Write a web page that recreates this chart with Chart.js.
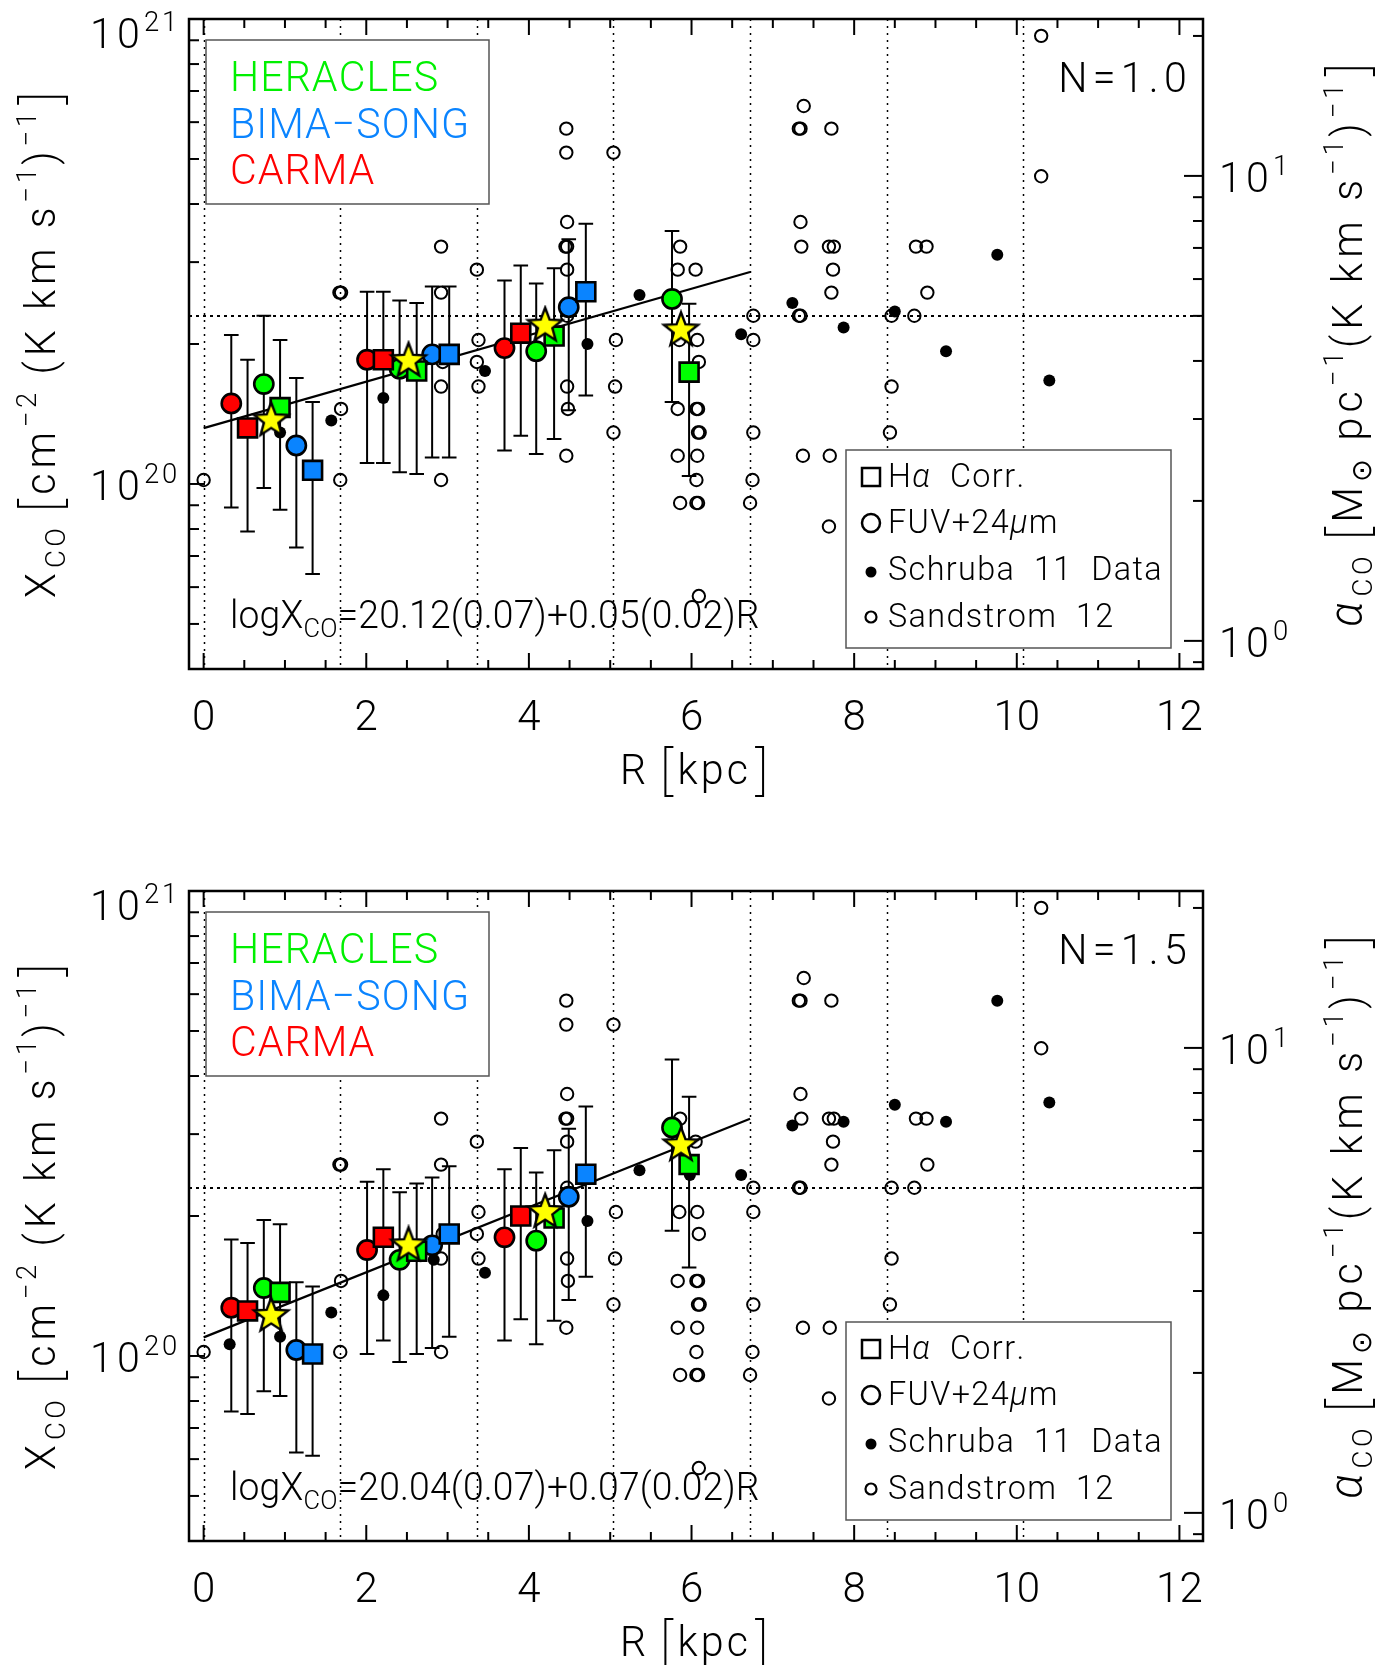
<!DOCTYPE html>
<html>
<head>
<meta charset="utf-8">
<script src="https://cdn.jsdelivr.net/npm/chart.js@4.4.1/dist/chart.umd.min.js"></script>
<style>
  html, body { margin: 0; padding: 0; background: #fff; }
  #wrap { position: relative; width: 1396px; height: 1665px; }
  canvas { position: absolute; left: 0; display: block; }
</style>
</head>
<body>
<div id="wrap">
  <canvas id="panelN10" width="1396" height="872" style="top:0"></canvas>
  <canvas id="panelN15" width="1396" height="793" style="top:872px"></canvas>
</div>
<script>
// ---------------- axes ----------------
// X_CO values are in units of 1e20 cm^-2 (K km s^-1)^-1
const rRange = [-0.18, 12.29];
const xcoRange = [0.4, 10];
const alphaPerXco = 2.175;            // alpha_CO [Msun pc^-2 (K km s^-1)^-1] per 1e20 of X_CO
const rTicks = [0, 2, 4, 6, 8, 10, 12];
const rMinorTicks = [0.5, 1, 1.5, 2.5, 3, 3.5, 4.5, 5, 5.5, 6.5, 7, 7.5, 8.5, 9, 9.5, 10.5, 11, 11.5];
const xcoTicks = [1, 10];
const xcoTickExp = ['20', '21'];
const xcoMinorTicks = [0.5, 0.6, 0.7, 0.8, 0.9, 2, 3, 4, 5, 6, 7, 8, 9];
const alphaTicks = [1, 10];
const alphaTickExp = ['0', '1'];
const alphaMinorTicks = [0.9, 2, 3, 4, 5, 6, 7, 8, 9, 20];
const ringRadii = [0, 1.68, 3.36, 5.04, 6.72, 8.40, 10.08];
const galacticXco = 2.3;

// ---------------- surveys ----------------
const surveyNames = ['HERACLES', 'BIMA\u2212SONG', 'CARMA'];
const surveyColors = ['#00f000', '#0a84ff', '#ff0000'];
const markerColors = ['#00ff00', '#0a84ff', '#ff0000'];
const legendItems = ['H\u03b1  Corr.', 'FUV+24\u03bcm', 'Schruba  11  Data', 'Sandstrom  12'];

// radii of the binned measurements (kpc)
const herFuvR = [0.74, 2.41, 4.09, 5.76];
const herHaR = [0.94, 2.62, 4.31, 5.97];
const bimaFuvR = [1.14, 2.81, 4.49];
const bimaHaR = [1.34, 3.02, 4.70];
const carmaFuvR = [0.34, 2.01, 3.70];
const carmaHaR = [0.54, 2.21, 3.90];
const meanR = [0.83, 2.52, 4.20, 5.87];

// N = 1.0
const herFuvX_N10 = [1.64, 1.77, 1.93, 2.50];
const herFuvErr_N10 = [0.66, 0.71, 0.77, 1.00];
const herHaX_N10 = [1.46, 1.75, 2.08, 1.74];
const herHaErr_N10 = [0.58, 0.70, 0.83, 0.70];
const bimaFuvX_N10 = [1.21, 1.90, 2.40];
const bimaFuvErr_N10 = [0.48, 0.76, 0.96];
const bimaHaX_N10 = [1.07, 1.90, 2.59];
const bimaHaErr_N10 = [0.43, 0.76, 1.04];
const carmaFuvX_N10 = [1.49, 1.85, 1.96];
const carmaFuvErr_N10 = [0.60, 0.74, 0.78];
const carmaHaX_N10 = [1.32, 1.85, 2.11];
const carmaHaErr_N10 = [0.53, 0.74, 0.84];
const meanX_N10 = [1.37, 1.84, 2.19, 2.14];
const schrubaR_N10 = [0.94, 1.57, 2.21, 3.46, 4.72, 5.36, 6.61, 7.24, 7.87, 8.50, 9.13, 9.76, 10.40];
const schrubaX_N10 = [1.29, 1.37, 1.53, 1.75, 2.00, 2.55, 2.10, 2.45, 2.17, 2.35, 1.93, 3.11, 1.67];
const fitCoef_N10 = [20.12, 0.05];
const fitErr_N10 = [0.07, 0.02];

// N = 1.5
const herFuvX_N15 = [1.40, 1.61, 1.77, 3.10];
const herFuvErr_N15 = [0.56, 0.64, 0.71, 1.24];
const herHaX_N15 = [1.37, 1.68, 1.98, 2.58];
const herHaErr_N15 = [0.55, 0.67, 0.79, 1.03];
const bimaFuvX_N15 = [1.03, 1.73, 2.20];
const bimaFuvErr_N15 = [0.41, 0.69, 0.88];
const bimaHaX_N15 = [1.01, 1.83, 2.46];
const bimaHaErr_N15 = [0.40, 0.73, 0.98];
const carmaFuvX_N15 = [1.27, 1.69, 1.80];
const carmaFuvErr_N15 = [0.51, 0.68, 0.72];
const carmaHaX_N15 = [1.25, 1.80, 2.00];
const carmaHaErr_N15 = [0.50, 0.72, 0.80];
const meanX_N15 = [1.22, 1.73, 2.04, 2.84];
const schrubaR_N15 = [0.32, 0.94, 1.57, 2.21, 2.83, 3.46, 4.72, 5.36, 5.98, 6.61, 7.24, 7.87, 8.50, 9.13, 9.76, 10.40];
const schrubaX_N15 = [1.06, 1.10, 1.24, 1.35, 1.61, 1.51, 1.95, 2.51, 2.45, 2.45, 3.13, 3.19, 3.47, 3.19, 5.81, 3.51];
const fitCoef_N15 = [20.04, 0.07];
const fitErr_N15 = [0.07, 0.02];

// Sandstrom et al. (2012) values, same in both panels
const sandR = [0.00, 1.67, 1.69, 1.69, 1.68, 2.92, 2.92, 2.94, 2.92, 2.92, 3.36, 3.38, 3.36, 3.38,
  4.46, 4.46, 4.47, 4.45, 4.47, 4.47, 4.47, 4.47, 4.48, 4.46, 5.04, 5.07, 5.06, 5.04,
  5.86, 5.83, 6.05, 5.85, 6.07, 6.09, 5.83, 6.06, 6.08, 6.08, 6.10, 5.83, 6.07, 6.06, 5.86, 6.06, 6.08, 6.09,
  6.76, 6.76, 6.76, 6.75, 6.72, 7.38, 7.32, 7.34, 7.72, 7.34, 7.35, 7.69, 7.75, 7.74, 7.72, 7.32, 7.34, 7.37, 7.70, 7.69,
  8.46, 8.74, 8.76, 8.89, 8.90, 8.46, 8.44, 10.30, 10.30];
const sandX = [1.02, 2.58, 2.58, 1.45, 1.02, 3.24, 2.58, 1.83, 1.62, 1.02, 2.89, 2.04, 1.83, 1.62,
  5.81, 5.16, 3.66, 3.24, 3.24, 2.89, 2.30, 1.62, 1.45, 1.15, 5.16, 2.04, 1.62, 1.29,
  3.24, 2.89, 2.89, 2.04, 2.04, 1.83, 1.45, 1.45, 1.45, 1.29, 1.29, 1.15, 1.15, 1.02, 0.91, 0.91, 0.91, 0.574,
  2.30, 2.04, 1.29, 1.02, 0.91, 6.50, 5.81, 5.81, 5.81, 3.66, 3.24, 3.24, 3.24, 2.89, 2.58, 2.30, 2.30, 1.15, 1.15, 0.81,
  2.30, 2.30, 3.24, 3.24, 2.58, 1.62, 1.29, 9.20, 4.59];

const fitRange = [0, 6.72];

// ---------------- text helpers ----------------
const FF = 'Roboto, "Liberation Sans", "DejaVu Sans", Arial, sans-serif';
const FW = 300;
const HS = 0.98;

function fontOf(g) { return (g.it ? 'italic ' : '') + FW + ' ' + g.s + 'px ' + FF; }
function segWidth(ctx, g, ls) {
  if (g.br) return g.w;
  ctx.font = fontOf(g);
  let w = 0;
  for (const ch of g.t) w += ctx.measureText(ch).width * HS + ls * g.s / 40;
  return w;
}
function drawRich(ctx, segs, x, y, o) {
  o = o || {};
  const ls = o.ls === undefined ? 2 : o.ls;
  const align = o.align || 'left';
  ctx.save();
  ctx.translate(x, y);
  if (o.rot) ctx.rotate(o.rot);
  let total = 0;
  for (const g of segs) total += segWidth(ctx, g, ls);
  let cx = align === 'left' ? 0 : (align === 'right' ? -total : -total / 2);
  ctx.fillStyle = o.color || '#000';
  ctx.strokeStyle = o.color || '#000';
  ctx.textBaseline = 'alphabetic';
  ctx.textAlign = 'left';
  for (const g of segs) {
    if (g.br) {
      ctx.lineWidth = 2;
      ctx.beginPath();
      const l = cx + 3, r = cx + g.w - 4;
      if (g.br === '[') { ctx.moveTo(r, g.top); ctx.lineTo(l, g.top); ctx.lineTo(l, g.bot); ctx.lineTo(r, g.bot); }
      else { ctx.moveTo(l + 1, g.top); ctx.lineTo(r + 1, g.top); ctx.lineTo(r + 1, g.bot); ctx.lineTo(l + 1, g.bot); }
      ctx.stroke();
      cx += g.w;
      continue;
    }
    ctx.font = fontOf(g);
    for (const ch of g.t) {
      ctx.save();
      ctx.translate(cx, g.dy || 0);
      ctx.scale(HS, 1);
      ctx.fillText(ch, 0, 0);
      ctx.restore();
      cx += ctx.measureText(ch).width * HS + ls * g.s / 40;
    }
  }
  ctx.restore();
}
const BR = (b) => ({ br: b, w: 15, top: -37, bot: 12 });

// ---------------- marker images ----------------
const starImg = (() => {
  const c = document.createElement('canvas');
  c.width = 42; c.height = 42;
  const g = c.getContext('2d');
  const R = 18, r = 7.6, cx = 21, cy = 21;
  g.beginPath();
  for (let k = 0; k < 10; k++) {
    const ang = -Math.PI / 2 + k * Math.PI / 5;
    const rr = k % 2 ? r : R;
    g.lineTo(cx + rr * Math.cos(ang), cy + rr * Math.sin(ang));
  }
  g.closePath();
  g.fillStyle = '#ffff00';
  g.fill();
  g.lineWidth = 2.4;
  g.strokeStyle = '#000';
  g.stroke();
  return c;
})();

// ---------------- dataset builders ----------------
const CAP = 0.09; // half-width of error bar caps in kpc
function pts(R, X) { return R.map((r, i) => ({ x: r, y: X[i] })); }
function errorBarPoints(sets) {
  const out = [];
  for (const [R, X, E] of sets) {
    R.forEach((r, i) => {
      const lo = X[i] - E[i], hi = X[i] + E[i];
      out.push({ x: r, y: lo }, { x: r, y: hi }, { x: r, y: null });
      out.push({ x: r - CAP, y: lo }, { x: r + CAP, y: lo }, { x: r, y: null });
      out.push({ x: r - CAP, y: hi }, { x: r + CAP, y: hi }, { x: r, y: null });
    });
  }
  return out;
}

function buildDatasets(p) {
  const ds = [];
  ds.push({ data: pts(meanR, p.meanX), pointStyle: starImg, pointRadius: 18, order: 1 });
  const haR = [herHaR, bimaHaR, carmaHaR];
  const fuvR = [herFuvR, bimaFuvR, carmaFuvR];
  for (let i = 0; i < 3; i++) {
    ds.push({ data: pts(haR[i], p.haX[i]), pointStyle: 'rect', pointRadius: 13.4,
      backgroundColor: markerColors[i], borderColor: '#000', borderWidth: 2.6, order: 2 });
  }
  for (let i = 0; i < 3; i++) {
    ds.push({ data: pts(fuvR[i], p.fuvX[i]), pointStyle: 'circle', pointRadius: 9.6,
      backgroundColor: markerColors[i], borderColor: '#000', borderWidth: 2.6, order: 3 });
  }
  const sets = [];
  for (let i = 0; i < 3; i++) {
    sets.push([fuvR[i], p.fuvX[i], p.fuvErr[i]]);
    sets.push([haR[i], p.haX[i], p.haErr[i]]);
  }
  ds.push({ data: errorBarPoints(sets), showLine: true, spanGaps: false, pointRadius: 0,
    borderColor: '#000', borderWidth: 2, order: 4 });
  const [a, b] = p.fitCoef;
  ds.push({ data: fitRange.map(r => ({ x: r, y: Math.pow(10, a + b * r - 20) })), showLine: true,
    pointRadius: 0, borderColor: '#000', borderWidth: 2.2, order: 5 });
  ds.push({ data: pts(p.schrubaR, p.schrubaX), pointStyle: 'circle', pointRadius: 6,
    backgroundColor: '#000', borderWidth: 0, order: 6 });
  ds.push({ data: pts(sandR, sandX), pointStyle: 'circle', pointRadius: 6.2,
    backgroundColor: 'rgba(0,0,0,0)', borderColor: '#000', borderWidth: 2, order: 7 });
  return ds;
}

// ---------------- decorations: frame, ticks, labels, keys ----------------
const panelDecor = {
  id: 'panelDecor',
  beforeDatasetsDraw(chart) {
    const { ctx, chartArea: a, scales: { x, y } } = chart;
    ctx.save();
    ctx.beginPath();
    ctx.rect(a.left, a.top, a.right - a.left, a.bottom - a.top);
    ctx.clip();
    ctx.strokeStyle = '#000';
    ctx.lineWidth = 1.5;
    ctx.setLineDash([2, 5]);
    ringRadii.forEach(r => {
      const px = Math.round(x.getPixelForValue(r)) + 0.5;
      ctx.beginPath(); ctx.moveTo(px, a.top); ctx.lineTo(px, a.bottom); ctx.stroke();
    });
    ctx.lineWidth = 2;
    ctx.setLineDash([3, 4]);
    const py = Math.round(y.getPixelForValue(galacticXco));
    ctx.beginPath(); ctx.moveTo(a.left, py); ctx.lineTo(a.right, py); ctx.stroke();
    ctx.restore();
  },
  afterDatasetsDraw(chart, args, opts) {
    const { ctx, chartArea: a, scales: { x, y, y2 } } = chart;
    ctx.save();

    // survey key
    ctx.fillStyle = '#fff';
    ctx.fillRect(a.left + 17, a.top + 21, 283, 164);
    ctx.strokeStyle = '#555';
    ctx.lineWidth = 1.5;
    ctx.strokeRect(a.left + 17, a.top + 21, 283, 164);
    [72, 119, 165].forEach((dy, i) => {
      drawRich(ctx, [{ t: surveyNames[i], s: 42 }], a.left + 41, a.top + dy, { ls: 1.0, color: surveyColors[i] });
    });

    // symbol key
    const bx = a.left + 657, by = a.top + 431;
    ctx.fillStyle = '#fff';
    ctx.fillRect(bx, by, 325, 198);
    ctx.strokeStyle = '#555';
    ctx.lineWidth = 1.5;
    ctx.strokeRect(bx, by, 325, 198);
    const rows = [468, 514, 561, 608];
    const sx = a.left + 682;
    ctx.strokeStyle = '#000';
    ctx.lineWidth = 2.5;
    ctx.strokeRect(sx - 9, a.top + rows[0] - 19, 18, 18);
    ctx.beginPath(); ctx.arc(sx, a.top + rows[1] - 10, 9, 0, Math.PI * 2); ctx.stroke();
    ctx.fillStyle = '#000';
    ctx.beginPath(); ctx.arc(sx, a.top + rows[2] - 8, 5.5, 0, Math.PI * 2); ctx.fill();
    ctx.lineWidth = 2.2;
    ctx.beginPath(); ctx.arc(sx, a.top + rows[3] - 10, 5.5, 0, Math.PI * 2); ctx.stroke();
    const keyLs = 1.7;
    drawRich(ctx, [{ t: 'H', s: 33 }, { t: '\u03b1', s: 33, it: true }, { t: '  Corr.', s: 33 }], a.left + 699, a.top + rows[0], { ls: keyLs });
    drawRich(ctx, [{ t: 'FUV+24', s: 33 }, { t: '\u03bc', s: 33, it: true }, { t: 'm', s: 33 }], a.left + 699, a.top + rows[1], { ls: keyLs });
    drawRich(ctx, [{ t: legendItems[2], s: 33 }], a.left + 699, a.top + rows[2], { ls: keyLs });
    drawRich(ctx, [{ t: legendItems[3], s: 33 }], a.left + 699, a.top + rows[3], { ls: keyLs });

    // fit relation
    const [fa, fb] = opts.fitCoef, [ea, eb] = opts.fitErr;
    drawRich(ctx, [{ t: 'logX', s: 38 }, { t: 'CO', s: 26, dy: 9 },
      { t: '=' + fa.toFixed(2) + '(' + ea.toFixed(2) + ')+' + fb.toFixed(2) + '(' + eb.toFixed(2) + ')R', s: 38 }],
      a.left + 41, a.top + 609, { ls: 0.2 });

    // panel label
    drawRich(ctx, [{ t: opts.label, s: 42 }], a.left + 1003, a.top + 73, { ls: 5, align: 'right' });

    // frame and inward ticks
    ctx.strokeStyle = '#000';
    ctx.lineWidth = 2;
    const seg = (x0, y0, x1, y1) => { ctx.beginPath(); ctx.moveTo(x0, y0); ctx.lineTo(x1, y1); ctx.stroke(); };
    const MAJ = 16, MIN = 9;
    rTicks.forEach(v => { const p = x.getPixelForValue(v); seg(p, a.bottom, p, a.bottom - MAJ); seg(p, a.top, p, a.top + MAJ); });
    rMinorTicks.forEach(v => { const p = x.getPixelForValue(v); seg(p, a.bottom, p, a.bottom - MIN); seg(p, a.top, p, a.top + MIN); });
    xcoTicks.forEach(v => { const p = y.getPixelForValue(v); seg(a.left, p, a.left + MAJ, p); });
    xcoMinorTicks.forEach(v => { const p = y.getPixelForValue(v); seg(a.left, p, a.left + MIN + 1, p); });
    alphaTicks.forEach(v => { const p = y2.getPixelForValue(v); seg(a.right, p, a.right - MAJ - 3, p); });
    alphaMinorTicks.forEach(v => { const p = y2.getPixelForValue(v); seg(a.right, p, a.right - MIN - 1, p); });
    ctx.lineWidth = 2.5;
    ctx.strokeRect(a.left, a.top, a.right - a.left, a.bottom - a.top);

    // logarithmic tick labels
    xcoTicks.forEach((v, i) => {
      const p = y.getPixelForValue(v);
      const base = v === xcoRange[1] ? p + 29 : p + 16;
      drawRich(ctx, [{ t: '10', s: 42 }, { t: xcoTickExp[i], s: 28, dy: -17 }], a.left - 9, base, { ls: 4, align: 'right' });
    });
    alphaTicks.forEach((v, i) => {
      const p = y2.getPixelForValue(v);
      drawRich(ctx, [{ t: '10', s: 42 }, { t: alphaTickExp[i], s: 28, dy: -17 }], a.right + 16, p + 16, { ls: 4 });
    });

    // axis titles
    const midY = (a.top + a.bottom) / 2 + 2;
    drawRich(ctx, [{ t: 'R ', s: 42 }, BR('['), { t: 'kpc', s: 42 }, BR(']')],
      (a.left + a.right) / 2 - 3, a.bottom + 115, { ls: 3, align: 'center' });
    drawRich(ctx, [{ t: 'X', s: 42 }, { t: 'CO', s: 28, dy: 10 }, { t: ' ', s: 42 }, BR('['), { t: 'cm', s: 42 },
      { t: '\u22122', s: 28, dy: -19 }, { t: ' (K km s', s: 42 }, { t: '\u22121', s: 28, dy: -19 }, { t: ')', s: 42 },
      { t: '\u22121', s: 28, dy: -19 }, BR(']')],
      55, midY, { ls: 4.8, align: 'center', rot: -Math.PI / 2 });
    drawRich(ctx, [{ t: '\u03b1', s: 46, it: true }, { t: 'CO', s: 28, dy: 10 }, { t: ' ', s: 42 }, BR('['), { t: 'M', s: 42 },
      { t: '\u2299', s: 28, dy: 9 }, { t: ' pc', s: 42 }, { t: '\u22121', s: 28, dy: -19 }, { t: '(K km s', s: 42 },
      { t: '\u22121', s: 28, dy: -19 }, { t: ')', s: 42 }, { t: '\u22121', s: 28, dy: -19 }, BR(']')],
      1362, midY, { ls: 5, align: 'center', rot: -Math.PI / 2 });

    ctx.restore();
  }
};

function makePanel(canvasId, p) {
  const canvas = document.getElementById(canvasId);
  const H = canvas.height;
  const AREA_BOTTOM = 669;
  return new Chart(canvas, {
    type: 'scatter',
    data: { datasets: buildDatasets(p) },
    options: {
      responsive: false,
      animation: false,
      events: [],
      layout: { padding: { top: 17, left: 0, right: 0, bottom: 0 } },
      plugins: {
        legend: { display: false },
        tooltip: { enabled: false },
        panelDecor: { label: p.label, fitCoef: p.fitCoef, fitErr: p.fitErr }
      },
      scales: {
        x: {
          type: 'linear', position: 'bottom', min: rRange[0], max: rRange[1],
          grid: { display: false }, border: { display: false },
          afterBuildTicks: s => { s.ticks = rTicks.map(v => ({ value: v })); },
          afterFit: s => { s.height = H - AREA_BOTTOM; },
          ticks: { autoSkip: false, maxRotation: 0, padding: 17, color: '#000',
            font: { family: FF, size: 42, weight: FW }, callback: v => String(v) }
        },
        y: {
          type: 'logarithmic', position: 'left', min: xcoRange[0], max: xcoRange[1],
          grid: { display: false }, border: { display: false },
          ticks: { display: false },
          afterFit: s => { s.width = 189; }
        },
        y2: {
          type: 'logarithmic', position: 'right', min: xcoRange[0] * alphaPerXco, max: xcoRange[1] * alphaPerXco,
          grid: { display: false }, border: { display: false },
          ticks: { display: false },
          afterFit: s => { s.width = 1396 - 1203; }
        }
      }
    },
    plugins: [panelDecor]
  });
}

makePanel('panelN10', {
  label: 'N=1.0', fitCoef: fitCoef_N10, fitErr: fitErr_N10, meanX: meanX_N10,
  haX: [herHaX_N10, bimaHaX_N10, carmaHaX_N10], haErr: [herHaErr_N10, bimaHaErr_N10, carmaHaErr_N10],
  fuvX: [herFuvX_N10, bimaFuvX_N10, carmaFuvX_N10], fuvErr: [herFuvErr_N10, bimaFuvErr_N10, carmaFuvErr_N10],
  schrubaR: schrubaR_N10, schrubaX: schrubaX_N10
});
makePanel('panelN15', {
  label: 'N=1.5', fitCoef: fitCoef_N15, fitErr: fitErr_N15, meanX: meanX_N15,
  haX: [herHaX_N15, bimaHaX_N15, carmaHaX_N15], haErr: [herHaErr_N15, bimaHaErr_N15, carmaHaErr_N15],
  fuvX: [herFuvX_N15, bimaFuvX_N15, carmaFuvX_N15], fuvErr: [herFuvErr_N15, bimaFuvErr_N15, carmaFuvErr_N15],
  schrubaR: schrubaR_N15, schrubaX: schrubaX_N15
});
</script>
</body>
</html>
